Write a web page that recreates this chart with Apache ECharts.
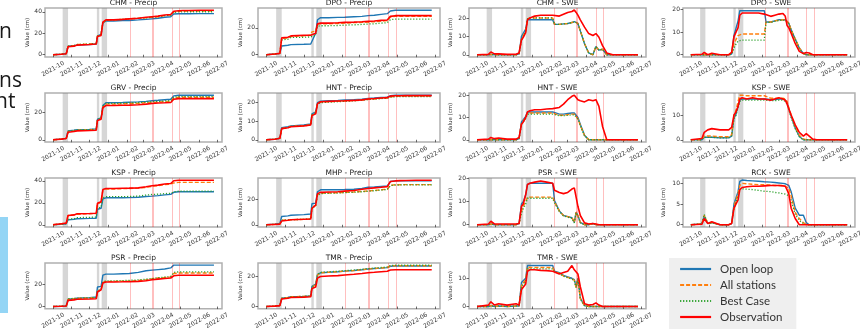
<!DOCTYPE html>
<html>
<head>
<meta charset="utf-8">
<script src="https://cdn.jsdelivr.net/npm/echarts@6/dist/echarts.min.js"></script>
<style>
  html, body { margin: 0; padding: 0; background: #fff; }
  #chart { width: 865px; height: 331px; }
</style>
</head>
<body>
<div id="chart"></div>
<script>
// ---- dates ----
const precipDates = ['2021-10-01','2021-10-15','2021-10-23','2021-10-26','2021-11-05','2021-11-10','2021-12-01','2021-12-12','2021-12-14','2021-12-20','2021-12-23','2021-12-28','2022-01-10','2022-01-25','2022-02-05','2022-02-20','2022-03-05','2022-03-15','2022-03-25','2022-04-05','2022-04-15','2022-04-20','2022-04-28','2022-05-05','2022-05-15','2022-06-01','2022-06-26'];
const sweDates = ['2021-10-01','2021-10-20','2021-10-24','2021-10-30','2021-11-06','2021-11-20','2021-12-05','2021-12-10','2021-12-14','2021-12-17','2021-12-21','2021-12-24','2021-12-28','2022-01-05','2022-01-15','2022-01-25','2022-02-04','2022-02-07','2022-02-15','2022-02-22','2022-03-01','2022-03-08','2022-03-12','2022-03-15','2022-03-18','2022-03-22','2022-03-29','2022-04-05','2022-04-12','2022-04-17','2022-04-22','2022-04-28','2022-05-05','2022-05-15','2022-06-26'];
const monthTicks = ['2021-10-01','2021-11-01','2021-12-01','2022-01-01','2022-02-01','2022-03-01','2022-04-01','2022-05-01','2022-06-01','2022-07-01'];
const grayBands = [['2021-10-17','2021-10-26'],['2021-12-13','2021-12-17'],['2021-12-21','2021-12-30']];
const redLines = ['2022-02-06','2022-03-15','2022-03-17','2022-04-17','2022-04-30'];
const seriesNames = ['Open loop','All stations','Best Case','Observation'];

// ---- precip (cm) ----
const chmPrecipOpen = [0,0.5,1,8,8.5,9,9.5,10,17.5,19,29.5,31.5,31.5,32,32,32.5,33,33.5,34,35,35.5,38,38.2,38.3,38.3,38.4,38.4];
const chmPrecipAll  = [0,0.5,1,8,8.5,9.5,10,10.5,17.5,19,30,32,32.5,33,33.5,34,34.5,35,35.5,36.5,37,40,40.5,40.6,40.7,40.8,40.8];
const chmPrecipBest = [0,0.5,1,8,8.5,9.5,10,10.5,17.5,19,30,32,32.5,33,33.5,34,34.5,35,35.5,36.5,37,39.5,40,40,40.1,40.1,40.1];
const chmPrecipObs  = [0,0.5,1,7.5,8,9,9.5,10,17,18,30.5,32.5,32.5,33,33.5,34,35,35.5,36,37,37.5,40.5,41,41.2,41.3,41.5,41.5];

const dpoPrecipOpen = [0,0.5,1,6.5,7,7.5,7.8,8,8.5,16,26,27.5,27.5,27.7,27.8,28.2,28.5,29,29.3,30,30.5,32.5,33,33,33,33,33];
const dpoPrecipAll  = [0,0.5,1,12,12.5,13.5,14,14.5,17,17.5,22.5,23,23,23.2,23.5,23.8,24,24.3,24.5,25,25.3,28,28.5,28.5,28.5,28.5,28.5];
const dpoPrecipBest = [0,0.5,1,11,11.5,12.8,13,13.2,14,14.5,21,21.5,21.5,21.7,22,22.2,22.5,22.8,23,23.5,23.8,26,26.5,26.5,26.5,26.5,26.5];
const dpoPrecipObs  = [0,0.5,1,12.5,13,14,14.5,14.5,15.5,16,23,23.5,23.5,23.7,24,24.2,24.5,24.8,25,25.5,25.8,28.5,29,29,29,29,29];

const grvPrecipOpen = [0,0.5,1,6.5,7,7.3,7.6,8,15,16,25,27,27,27.2,27.4,27.6,28,28.5,28.8,29.2,29.5,32,32.5,32.5,32.5,32.5,32.5];
const grvPrecipAll  = [0,0.5,1,6,6.5,7,7.3,7.5,14.5,15.5,24,26,26,26.2,26.4,26.6,27,27.2,27.5,27.8,28,30.5,31,31,31,31,31];
const grvPrecipBest = [0,0.5,1,6.3,6.8,7.2,7.5,7.8,14.8,15.8,24.5,26.5,26.5,26.7,26.9,27.1,27.5,27.7,28,28.3,28.5,31,31.5,31.5,31.5,31.5,31.5];
const grvPrecipObs  = [0,0.5,1,5.5,6,6.5,6.8,7,14,15,23.5,25,25,25.2,25.3,25.5,26,26.5,26.8,27,27.2,29.5,30,30,30,30,30];

const hntPrecipOpen = [0,0.3,0.8,6.5,7,7.5,8,8.5,14,15,20,20.8,21,21.2,21.4,21.6,21.9,22.3,22.5,22.8,23,23.8,24,24,24,24,24];
const hntPrecipAll  = [0,0.3,0.8,6,6.5,7.2,7.6,8,13.5,14.5,19.5,20.3,20.5,20.7,20.9,21.1,21.4,21.8,22,22.3,22.5,23.2,23.4,23.4,23.5,23.5,23.5];
const hntPrecipBest = [0,0.3,0.8,6,6.5,7.2,7.6,8,13.5,14.5,19.3,20,20.3,20.5,20.7,21,21.3,21.7,21.9,22.2,22.4,23,23.2,23.2,23.3,23.3,23.3];
const hntPrecipObs  = [0,0.3,0.8,6,6.5,7,7.5,8,13,14,19.5,20.5,20.7,20.9,21,21.2,21.5,22,22.2,22.5,22.7,23.5,23.7,23.7,23.8,23.8,23.8];

const kspPrecipOpen = [0,0.5,1,4.5,5,5.5,5.8,6,14,15,23.5,24.5,24.5,24.6,24.7,25,25.7,26,26.5,27.2,27.6,29.5,30,30,30,30,30];
const kspPrecipAll  = [0,1,1.5,8.5,9,9.5,10,10.3,19,20.5,31.5,32.5,32.5,32.8,33,33.3,34,35,35.5,36.5,37,38,38.5,38.5,38.5,38.5,38.5];
const kspPrecipBest = [0,0.5,1,5,5.5,6.5,6.8,7,15,16,24.5,25.5,25.5,25.6,25.7,26,27,27.5,27.8,28.3,28.6,30,30.5,30.5,30.5,30.5,30.5];
const kspPrecipObs  = [0,1,1.5,8.5,9,10,10.3,10.5,19.5,21,32,33,33,33.2,33.3,33.5,34.5,35.5,36,37,37.5,40,40.5,40.5,40.5,40.5,40.5];

const mhpPrecipOpen = [0,0.5,1,6.5,7,7.5,8,8.5,16.5,17,26,27.5,27.5,27.6,27.7,28,28.5,29.5,29.8,30.2,30.5,34,34.5,34.5,34.5,34.5,34.5];
const mhpPrecipAll  = [0,0.3,0.5,3.5,3.8,4,4.3,4.5,14,15,23.5,24.8,25,25.2,25.5,25.8,26.2,26.6,27,27.5,28,31,31.5,31.5,31.6,31.6,31.6];
const mhpPrecipBest = [0,0.3,0.5,3.5,3.8,4,4.3,4.5,13.5,14.5,23.2,24.5,24.8,25,25.3,25.6,26,26.4,26.8,27.3,27.8,30.8,31.3,31.3,31.4,31.4,31.4];
const mhpPrecipObs  = [0,0.3,0.5,3,3.5,4,4.3,4.5,13,15.5,24.5,25.5,25.8,26,26.5,27,28,28.5,29,29.5,30,34,34.5,34.7,34.8,35,35];

const psrPrecipOpen = [0,0.3,0.5,6.5,7,7.5,8,8.5,17.5,18,28,29,29,29.3,29.5,30.5,32,32.5,33,33.5,34.5,37,37,37,37,37,37];
const psrPrecipAll  = [0,0.3,0.5,6.5,7,7.3,7.6,8,13.5,15,21.5,22.5,22.5,22.7,22.8,23.2,23.8,24.8,25.5,26,26.5,29.5,30,30,30,30,30];
const psrPrecipBest = [0,0.3,0.5,7,7.3,7.5,7.8,8,14,15.5,22,23,23,23.2,23.4,23.8,24.5,25,25.7,26.2,26.8,30.5,31,31,31,31,31];
const psrPrecipObs  = [0,0.3,0.5,5.5,6,6.5,6.8,7,13,15,21,22,22,22.1,22.2,22.5,23,24,24.5,25,25.5,27.5,28,28,28,28,28];

const tmrPrecipOpen = [0,0.3,0.6,5.5,6,6.5,6.8,7,13.5,15,21.5,22.5,22.8,23.2,23.6,24,24.5,25,25.3,25.6,25.9,26.8,27,27,27,27,27];
const tmrPrecipAll  = [0,0.3,0.6,5.5,6,6.5,6.8,7,13,14.5,21,22.5,22.8,23.2,23.6,24,24.5,25,25.3,25.7,26,27,27.2,27.2,27.2,27.2,27.2];
const tmrPrecipBest = [0,0.3,0.6,5.5,6,6.5,6.8,7,13,14.5,21.2,22.8,23.1,23.5,23.9,24.3,24.8,25.3,25.6,26,26.3,27.3,27.5,27.5,27.5,27.5,27.5];
const tmrPrecipObs  = [0,0.3,0.6,5,5.5,6,6.3,6.5,12,13,19,20,20.3,20.6,21,21.5,22,22.5,22.8,23.2,23.5,24.3,24.5,24.5,24.5,24.5,24.5];

// ---- SWE (cm) ----
const chmSweOpen = [0,0,0.2,0,0,0,0,0.5,10,10,14,19,19,19,19,19,19,16.5,16.5,16.8,17,17.5,18,18,17,13,6,1,0,4.5,2.5,3,0,0,0];
const chmSweAll  = [0,0,0.2,0,0,0,0,0.5,8.5,9,13,19.5,20,20,20,20,20,16.5,16.5,16.8,17,17.5,18,18,17,13,6,1,0,4.5,2.5,3,0,0,0];
const chmSweBest = [0,0,0.2,0,0,0,0,0.5,8,9,13,19.5,20,20,20,20,20,16.5,16.5,16.8,17,17.5,18,18,17,13,6,1,0,4.5,2.5,3,0,0,0];
const chmSweObs  = [0,0.2,1.5,0.5,0.5,0.2,0.3,1,8,9.5,12,19,20,21,21.5,21.5,21.5,20.8,21,22,23,23.5,24.3,23,21.5,19,15,11.5,10.5,11.5,9.5,5,1,0,0];

const dpoSweOpen = [0,0,0,0,0,0,0,0.3,8.5,9,15,19.5,19.5,19.5,19.5,19.5,19.5,14.5,14.5,15,15.5,15.5,15.5,15.5,14,11,7,3,0.5,0,0,0,0,0,0];
const dpoSweAll  = [0,0,0,0,0,0,0,0.3,5,6.5,8.5,9,9.2,9.2,9.2,9.2,9.2,14.5,14.5,15,15.3,15.5,15.5,15.5,14,11,7,3,0.5,0,0,0,0,0,0];
const dpoSweBest = [0,0,0,0,0,0,0,0.2,3,4.5,6,6.5,6.5,6.5,6.5,6.5,6.5,14.3,14.3,14.8,15.2,15.3,15.3,15.3,13.8,10.8,6.8,2.8,0.4,0,0,0,0,0,0];
const dpoSweObs  = [0,0.2,1,0,0.7,0,0,1,8,8,12,17.5,18.5,18.5,18.5,18.5,18,17.5,17,17.5,18,18.3,17,13,12,9.5,5,1.5,0.5,1,0.8,0,0,0,0];

const hntSweOpen = [0,0,0,0,0,0,0,0.5,8,9,10.5,12.5,12.5,12.5,12.5,12.5,12.5,12,11.5,11.5,11.8,12,12,11.5,10,7,2,0,0,0,0,0,0,0,0];
const hntSweAll  = [0,0,0,0,0,0,0,0.5,7.5,8.5,10,12,12,12,12,12,12,11.5,11,11,11.3,11.5,11.5,11,9.5,6.5,2,0,0,0,0,0,0,0,0];
const hntSweBest = [0,0,0,0,0,0,0,0.5,7,8,9.5,11.5,11.5,11.5,11.5,11.5,11.5,11.2,10.8,10.8,11,11.2,11.2,10.8,9.3,6.3,1.8,0,0,0,0,0,0,0,0];
const hntSweObs  = [0,0.3,1,0.5,0.8,0.3,0.3,1,7,8,10,12.5,13,13.5,13.5,13.8,14,14,14.5,16,18,19.5,20,19,18,17.5,17,18,17.5,18,15,6,0,0,0];

const kspSweOpen = [0,0,1,1,1,0.8,0.8,1.5,9,10,13.5,16,16.5,16.5,16.5,16.5,16.5,16.5,16.3,16.3,16.5,16.5,16,15,12.5,9.5,4.8,1.3,0,0,0,0,0,0,0];
const kspSweAll  = [0,0,1.5,1.5,1.5,1.2,1.2,2,10,11.5,15.5,18,18,17.8,17.8,17.8,17.8,17,16.8,16.8,16.8,16.8,16.5,15.5,13,10,5.2,1.8,0.3,0,0,0,0,0,0];
const kspSweBest = [0,0,1,1,1,0.8,0.8,1.5,8.5,9.5,13,15.5,16,16,16,16,16,16,15.8,15.8,16,16,15.5,14.5,12,9,4.5,1.2,0,0,0,0,0,0,0];
const kspSweObs  = [0,0.5,3,4,4.5,4,4,5,10,11,13.5,16.5,17,16.5,17,16.5,16.5,16,16,16.5,17,16.5,16,14.5,12.5,10,6,3,1.5,2.5,1.5,0.3,0,0,0];

const psrSweOpen = [0,0,0.3,0,0,0,0,0.5,9,10,13,17.5,18,18,18,18,18,10.5,6,4,3.5,3,1,5.5,4,1,0,0,0.5,0,0,0,0,0,0];
const psrSweAll  = [0,0,0.3,0,0,0,0,0.5,6,8,10,12,12,12,12,12,12,10,6,4,3.5,3,1,5.5,4,1,0,0,0.5,0,0,0,0,0,0];
const psrSweBest = [0,0,0.3,0,0,0,0,0.5,5,7,9,11.5,11.5,11.5,11.5,11.5,11.5,9.5,5.8,3.8,3.3,2.8,0.8,5.2,3.8,0.8,0,0,0.5,0,0,0,0,0,0];
const psrSweObs  = [0,0.3,1.5,0.3,0.3,0.3,0.3,0.5,8,9,13,17.5,18,18.5,19,18.5,18,15,14,13.5,14,15.5,16,12,8,4,0.8,0.3,0.5,0.3,0,0,0,0,0];

const rckSweOpen = [0,0.2,2,0.3,0.5,0,0,0.3,5,5,8,10.5,10.8,10.7,10.6,10.5,10.4,10.4,10.3,10.2,10.1,10,9.9,9.8,9.5,8,4,2.3,2.3,0.5,0,0,0,0,0];
const rckSweAll  = [0,0.2,2.3,0.3,0.5,0,0,0.3,4.5,4.5,7.5,9.5,10,9.9,9.8,9.7,9.7,9.6,9.6,9.5,9.5,9.5,9.3,9.2,8.8,7,3,1.5,0.5,0,0,0,0,0,0];
const rckSweBest = [0,0.2,2.5,0.3,0.5,0,0,0.3,4,4,7,8.5,8.7,8.6,8.5,8.3,8.1,8.1,8,7.8,7.7,7.5,7.4,7.3,7,6,2.5,1,0.3,0,0,0,0,0,0];
const rckSweObs  = [0,0.1,1.5,0.3,0.7,0,0,0.3,4,4,6,8.5,9,9.2,9.3,9.3,9.4,9.4,9.5,9.5,9.5,9.4,9.3,9,7.5,4,1.5,0,0,0,0,0,0,0,0];

const tmrSweOpen = [0,0,0.3,0,0.2,0,0.2,0.2,8.5,8.5,10,14.5,14.5,14.5,14.5,14.5,14.5,12.5,12,11,10.5,10,9.5,7,10,3,0.3,0,0,0,0,0,0,0,0];
const tmrSweAll  = [0,0,0.3,0,0.2,0,0.2,0.2,7.5,8,9.5,14,13.8,13.8,13.8,13.8,13.8,12.3,11.8,10.8,10.3,9.8,9.3,6.8,9.8,2.8,0.3,0,0,0,0,0,0,0,0];
const tmrSweBest = [0,0,0.3,0,0.2,0,0.2,0.2,7,7.5,9,13.3,13.3,13.3,13.3,13.3,13.3,12.2,11.7,10.7,10.2,9.7,9.2,6.7,9.6,2.7,0.3,0,0,0,0,0,0,0,0];
const tmrSweObs  = [0,0.5,1.7,0.5,1,0.5,1,0.5,6,6.5,8,12.5,13,13,12.8,12.7,12.5,12.2,11.5,12,12.5,14.5,13,12.5,11.5,7,1,0.5,0.7,1.3,0.5,0,0,0,0];

// panels: row/col in the 4x4 layout, y range and tick values
const panels = [
  { title: 'CHM - Precip', row: 0, col: 0, dates: precipDates, lines: [chmPrecipOpen, chmPrecipAll, chmPrecipBest, chmPrecipObs], y: [-2.1, 43.6], ticks: [0, 20, 40] },
  { title: 'DPO - Precip', row: 0, col: 1, dates: precipDates, lines: [dpoPrecipOpen, dpoPrecipAll, dpoPrecipBest, dpoPrecipObs], y: [-1.7, 34.7], ticks: [0, 20] },
  { title: 'CHM - SWE', row: 0, col: 2, dates: sweDates, lines: [chmSweOpen, chmSweAll, chmSweBest, chmSweObs], y: [-1.2, 25.4], ticks: [0, 10, 20] },
  { title: 'DPO - SWE', row: 0, col: 3, dates: sweDates, lines: [dpoSweOpen, dpoSweAll, dpoSweBest, dpoSweObs], y: [-1, 20.7], ticks: [0, 10, 20] },
  { title: 'GRV - Precip', row: 1, col: 0, dates: precipDates, lines: [grvPrecipOpen, grvPrecipAll, grvPrecipBest, grvPrecipObs], y: [-1.6, 34.1], ticks: [0, 20] },
  { title: 'HNT - Precip', row: 1, col: 1, dates: precipDates, lines: [hntPrecipOpen, hntPrecipAll, hntPrecipBest, hntPrecipObs], y: [-1.2, 25.2], ticks: [0, 10, 20] },
  { title: 'HNT - SWE', row: 1, col: 2, dates: sweDates, lines: [hntSweOpen, hntSweAll, hntSweBest, hntSweObs], y: [-1, 21], ticks: [0, 10, 20] },
  { title: 'KSP - SWE', row: 1, col: 3, dates: sweDates, lines: [kspSweOpen, kspSweAll, kspSweBest, kspSweObs], y: [-0.9, 18.9], ticks: [0, 10] },
  { title: 'KSP - Precip', row: 2, col: 0, dates: precipDates, lines: [kspPrecipOpen, kspPrecipAll, kspPrecipBest, kspPrecipObs], y: [-2, 42.5], ticks: [0, 20, 40] },
  { title: 'MHP - Precip', row: 2, col: 1, dates: precipDates, lines: [mhpPrecipOpen, mhpPrecipAll, mhpPrecipBest, mhpPrecipObs], y: [-1.75, 36.8], ticks: [0, 20] },
  { title: 'PSR - SWE', row: 2, col: 2, dates: sweDates, lines: [psrSweOpen, psrSweAll, psrSweBest, psrSweObs], y: [-1, 20.3], ticks: [0, 10, 20] },
  { title: 'RCK - SWE', row: 2, col: 3, dates: sweDates, lines: [rckSweOpen, rckSweAll, rckSweBest, rckSweObs], y: [-0.55, 11.3], ticks: [0, 5, 10] },
  { title: 'PSR - Precip', row: 3, col: 0, dates: precipDates, lines: [psrPrecipOpen, psrPrecipAll, psrPrecipBest, psrPrecipObs], y: [-1.85, 38.9], ticks: [0, 20] },
  { title: 'TMR - Precip', row: 3, col: 1, dates: precipDates, lines: [tmrPrecipOpen, tmrPrecipAll, tmrPrecipBest, tmrPrecipObs], y: [-1.4, 29], ticks: [0, 20] },
  { title: 'TMR - SWE', row: 3, col: 2, dates: sweDates, lines: [tmrSweOpen, tmrSweAll, tmrSweBest, tmrSweObs], y: [-0.75, 15.4], ticks: [0, 10] }
];

// layout (px)
const colLeft = [45, 258, 469, 683];
const colWidth = [177, 182, 177, 176];
const colNameGap = [13, 13, 15, 16];
const rowTop = [8, 93, 178, 263];
const rowHeight = 49;

const lineStyles = [
  { color: '#1f77b4', width: 1.4, type: 'solid' },
  { color: '#ff7f0e', width: 1.4, type: [4, 2] },
  { color: '#2ca02c', width: 1.3, type: [1.2, 1.8] },
  { color: '#ff0000', width: 1.6, type: 'solid' }
];

const ts = (s) => {
  const [y, m, d] = s.split('-').map(Number);
  return Date.UTC(y, m - 1, d);
};
const DAY = 864e5;
const xMin = ts(precipDates[0]) - 13.4 * DAY;
const xMax = ts(precipDates[precipDates.length - 1]) + 13.4 * DAY;
const monthTs = monthTicks.map(ts);
const fmtMonth = (v) => {
  const d = new Date(v);
  return d.getUTCFullYear() + '-' + String(d.getUTCMonth() + 1).padStart(2, '0');
};

const FONT = 'DejaVu Sans';
const grids = [], xAxes = [], yAxes = [], series = [], graphics = [];

panels.forEach((p, i) => {
  const left = colLeft[p.col], top = rowTop[p.row], width = colWidth[p.col];
  grids.push({
    left: left, top: top, width: width, height: rowHeight,
    show: true, borderColor: '#b0b0b0', borderWidth: 1.5
  });
  // timestamps on a plain value axis so the month ticks can be placed exactly
  xAxes.push({
    type: 'value', gridIndex: i, min: xMin, max: xMax, scale: true,
    axisLine: { show: false }, splitLine: { show: false },
    axisTick: { show: true, customValues: monthTs, length: 2.5, lineStyle: { color: '#444', width: 0.8 } },
    axisLabel: {
      customValues: monthTs, formatter: fmtMonth, rotate: 30,
      align: 'center', verticalAlign: 'middle', margin: 12,
      fontSize: 6, color: '#333', fontFamily: FONT, hideOverlap: false
    }
  });
  yAxes.push({
    type: 'value', gridIndex: i, min: p.y[0], max: p.y[1],
    axisLine: { show: false }, splitLine: { show: false },
    axisTick: { show: true, customValues: p.ticks, length: 2.5, lineStyle: { color: '#444', width: 0.8 } },
    axisLabel: { customValues: p.ticks, fontSize: 6, margin: 3, color: '#333', fontFamily: FONT },
    name: 'Value (cm)', nameLocation: 'middle', nameGap: colNameGap[p.col],
    nameTextStyle: { fontSize: 5.5, color: '#333', fontFamily: FONT }
  });

  p.lines.forEach((vals, j) => {
    const s = {
      type: 'line', name: seriesNames[j], xAxisIndex: i, yAxisIndex: i,
      data: p.dates.map((d, k) => [ts(d), vals[k]]),
      symbol: 'none', showSymbol: false, animation: false, z: 3 + j,
      lineStyle: lineStyles[j], itemStyle: { color: lineStyles[j].color }
    };
    if (j === 0) {
      // shaded periods and event lines go with the first series of every panel
      s.markArea = {
        silent: true,
        itemStyle: { color: 'rgba(128,128,128,0.32)' },
        data: grayBands.map(b => [{ xAxis: ts(b[0]) }, { xAxis: ts(b[1]) }])
      };
      s.markLine = {
        silent: true, symbol: 'none', label: { show: false },
        lineStyle: { color: 'rgba(255,0,0,0.25)', width: 1, type: 'solid' },
        data: redLines.map(d => ({ xAxis: ts(d) }))
      };
    }
    series.push(s);
  });

  graphics.push({
    type: 'text', x: left + width / 2, y: top - 5,
    style: { text: p.title, fontSize: 7.5, fontFamily: FONT, fill: '#222', align: 'center', verticalAlign: 'middle' }
  });
});

// bits of the slide around the figure
graphics.push(
  { type: 'rect', shape: { x: 0, y: 217, width: 8, height: 96 }, style: { fill: '#94d5f5' } },
  { type: 'text', x: -1, y: 32, style: { text: 'n', fontSize: 21, fontFamily: 'Open Sans', fill: '#1a1a1a', verticalAlign: 'middle' } },
  { type: 'text', x: -1, y: 81, style: { text: 'ns', fontSize: 21, fontFamily: 'Open Sans', fill: '#1a1a1a', verticalAlign: 'middle' } },
  { type: 'text', x: -5, y: 102, style: { text: 'nt', fontSize: 21, fontFamily: 'Open Sans', fill: '#1a1a1a', verticalAlign: 'middle' } }
);

const chart = echarts.init(document.getElementById('chart'), null, { renderer: 'canvas' });
chart.setOption({
  backgroundColor: '#fff',
  animation: false,
  textStyle: { fontFamily: FONT },
  grid: grids,
  xAxis: xAxes,
  yAxis: yAxes,
  series: series,
  graphic: graphics,
  legend: {
    data: seriesNames, orient: 'vertical', left: 669, top: 258,
    backgroundColor: '#efefef', padding: [5, 14, 6, 10],
    itemWidth: 31, itemHeight: 11, itemGap: 4,
    itemStyle: { opacity: 0 },
    lineStyle: { width: 2.2 },
    textStyle: { fontFamily: 'Lato', fontSize: 11.5, color: '#333', padding: [0, 0, 0, 4] }
  }
});
</script>
</body>
</html>
